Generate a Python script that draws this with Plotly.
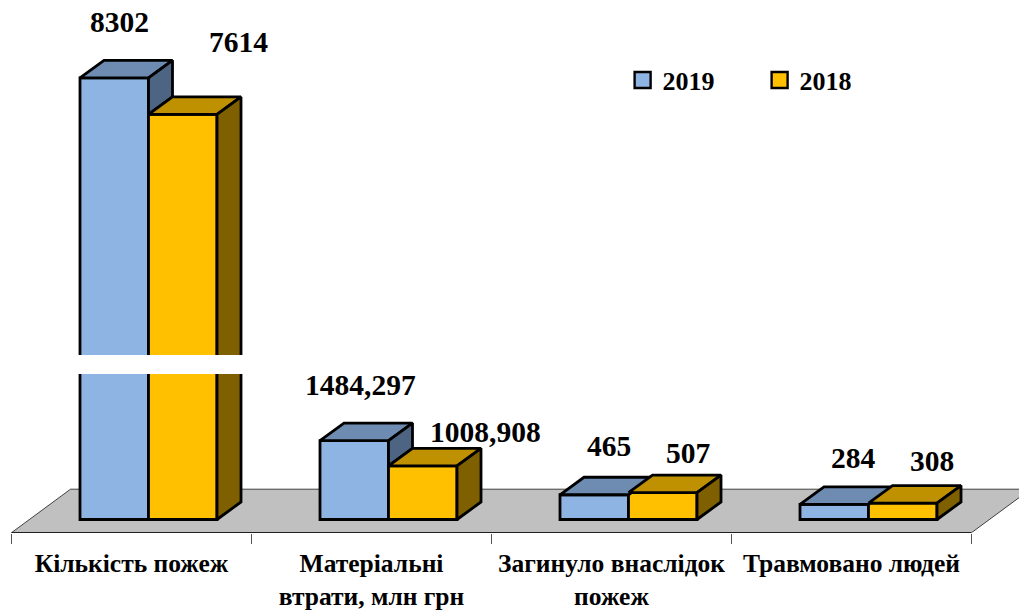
import plotly.graph_objects as go

categories = ["Кількість пожеж", "Матеріальні<br>втрати, млн грн", "Загинуло внаслідок<br>пожеж", "Травмовано людей"]
values_2019 = [8302, 1484.297, 465, 284]
values_2018 = [7614, 1008.908, 507, 308]
labels_2019 = ["8302", "1484,297", "465", "284"]
labels_2018 = ["7614", "1008,908", "507", "308"]
# label placement relative to the bar's top-centre, in px
shift_2019 = [(5, 56), (6, 56), (15, 49), (19, 46)]
shift_2018 = [(56, 72), (63, 34), (26, 40), (29, 42)]

FONT = "Liberation Serif"
PX_PER_UNIT = 0.0532
PX_PER_CAT = 240.0
BAR_W = 68.5 / PX_PER_CAT
GAP = 68.5 / PX_PER_CAT
DX = 24 / PX_PER_CAT
DY = 17.5 / PX_PER_UNIT
FLOOR_DX = 59 / PX_PER_CAT
FLOOR_DY = 43.5 / PX_PER_UNIT
FLOOR_FRONT = -13.2 / PX_PER_UNIT
BREAK_LOW, BREAK_HIGH = 2735, 3092
EDGE = dict(color="black", width=2.8)

fig = go.Figure()


def poly(xs, ys, color):
    fig.add_trace(go.Scatter(x=xs + xs[:1], y=ys + ys[:1], mode="lines", fill="toself",
                             fillcolor=color, line=EDGE, showlegend=False, hoverinfo="skip"))


left = [i + GAP for i in range(4)]
mid = [x + BAR_W for x in left]

fig.add_trace(go.Bar(x=[x + BAR_W / 2 for x in left], y=values_2019, width=BAR_W, name="2019",
                     marker=dict(color="#8EB4E3", line=EDGE), showlegend=False))
fig.add_trace(go.Bar(x=[x + BAR_W / 2 for x in mid], y=values_2018, width=BAR_W, name="2018",
                     marker=dict(color="#FFC000", line=EDGE), showlegend=False))

for i in range(4):
    a, m, b = left[i], mid[i], mid[i] + BAR_W
    v19, v18 = values_2019[i], values_2018[i]
    poly([a, m, m + DX, a + DX], [v19, v19, v19 + DY, v19 + DY], "#6E8CB2")
    if v19 > v18:
        poly([m, m + DX, m + DX, m], [v19, v19 + DY, v18 + DY, v18], "#4D6482")
    poly([m, b, b + DX, m + DX], [v18, v18, v18 + DY, v18 + DY], "#BF9000")
    poly([b, b + DX, b + DX, b], [v18, v18 + DY, DY, 0], "#7F6000")

fig.add_trace(go.Scatter(x=[None], y=[None], mode="markers", name="2019",
                         marker=dict(symbol="square", size=16, color="#8EB4E3", line=dict(color="black", width=2.4))))
fig.add_trace(go.Scatter(x=[None], y=[None], mode="markers", name="2018",
                         marker=dict(symbol="square", size=16, color="#FFC000", line=dict(color="black", width=2.4))))

# floor
fig.add_shape(type="path", layer="below", line=dict(color="#404040", width=1), fillcolor="#C0C0C0",
              path=f"M 0 {FLOOR_FRONT} L {FLOOR_DX} {FLOOR_FRONT + FLOOR_DY} "
                   f"L {4 + FLOOR_DX} {FLOOR_FRONT + FLOOR_DY} L 4 {FLOOR_FRONT} Z")
fig.add_shape(type="line", layer="below", x0=0, x1=4, y0=FLOOR_FRONT, y1=FLOOR_FRONT,
              line=dict(color="black", width=1.5))

# axis break
fig.add_shape(type="rect", layer="above", x0=left[0] - 2 / PX_PER_CAT, x1=mid[0] + BAR_W + DX + 2 / PX_PER_CAT,
              y0=BREAK_LOW, y1=BREAK_HIGH, fillcolor="white", line_width=0)

for lefts, vals, labels, shifts in ((left, values_2019, labels_2019, shift_2019),
                                    (mid, values_2018, labels_2018, shift_2018)):
    for x, v, t, (sx, sy) in zip(lefts, vals, labels, shifts):
        fig.add_annotation(x=x + BAR_W / 2, y=v, text=f"<b>{t}</b>", showarrow=False, xshift=sx, yshift=sy,
                           font=dict(family=FONT, size=29.5, color="black"))

fig.update_layout(
    width=1019, height=612, margin=dict(l=0, r=0, t=0, b=0), autosize=False,
    paper_bgcolor="white", plot_bgcolor="rgba(0,0,0,0)", barmode="overlay",
    legend=dict(orientation="h", x=0.611, y=0.869, xanchor="left", yanchor="middle",
                entrywidth=92, entrywidthmode="pixels", bgcolor="rgba(0,0,0,0)",
                font=dict(family=FONT, size=26, color="black", weight=700), itemclick=False),
    font=dict(family=FONT),
    xaxis=dict(range=[-11.5 / PX_PER_CAT, (1019 - 11.5) / PX_PER_CAT], showgrid=False, zeroline=False, showline=False,
               tickmode="array", tickvals=[0.5, 1.5, 2.5, 3.5], ticktext=[f"<b>{c}</b>" for c in categories],
               ticks="", ticklabelstandoff=13, tickfont=dict(family=FONT, size=25.5, color="black"),
               minor=dict(tickmode="array", tickvals=[0, 1, 2, 3, 4], ticks="outside", ticklen=10, tickwidth=1,
                          tickcolor="#555555")),
    yaxis=dict(domain=[(612 - 532.7) / 612, 1], range=[FLOOR_FRONT, 519.5 / PX_PER_UNIT], visible=False),
)

fig.write_html("out.html", config=dict(displayModeBar=False),
               post_script="document.body.style.margin='0';document.documentElement.style.overflow='hidden';")
